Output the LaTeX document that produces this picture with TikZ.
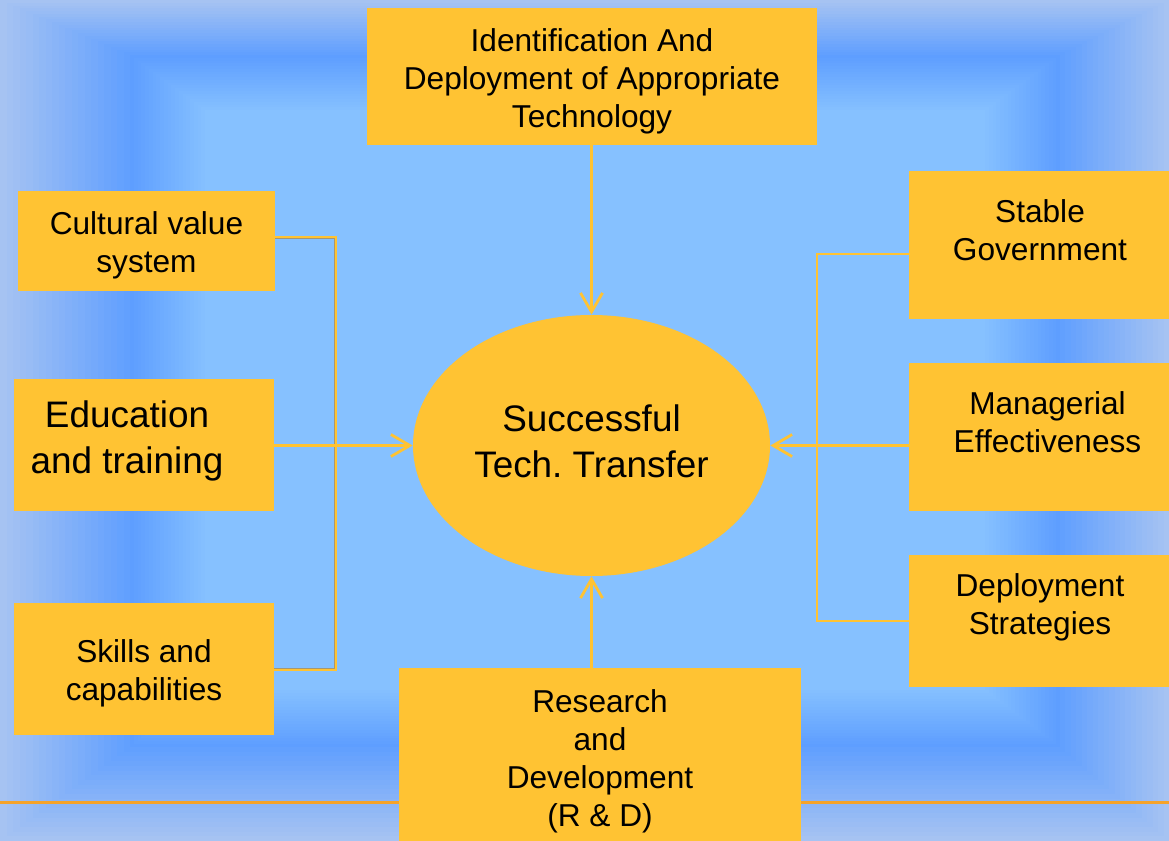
\documentclass[tikz,border=0pt]{standalone}
\usepackage{fontspec}
\setmainfont{Liberation Sans}
\usetikzlibrary{arrows.meta,calc,shapes.geometric}
\definecolor{boxorange}{RGB}{255,195,51}
\definecolor{rulecol}{RGB}{245,163,42}
\definecolor{edgeblue}{RGB}{166,195,242}
\definecolor{deepblue}{RGB}{94,158,255}
\definecolor{paleblue}{RGB}{134,193,255}
\definecolor{shadowgray}{RGB}{165,152,115}

\pgfdeclarelayer{background}
\pgfsetlayers{background,main}
\tikzstyle{box}=[rectangle,fill=boxorange,inner sep=0pt]
\tikzstyle{hub}=[ellipse,fill=boxorange,inner sep=0pt,minimum width=71.4mm,minimum height=52.2mm]
\tikzstyle{note}=[align=center,inner sep=0pt,font=\fontsize{18pt}{21.6pt}\selectfont]
\tikzstyle{bignote}=[note,font=\fontsize{21pt}{26pt}\selectfont]
\tikzstyle{link}=[draw=boxorange,line width=0.55mm,-{Straight Barb[length=3.8mm,width=4.4mm]}]
\tikzstyle{feed}=[draw=boxorange,line width=0.5mm]
\tikzstyle{rim}=[draw=boxorange,line width=0.34mm]
\tikzstyle{rim shadow}=[draw=shadowgray,line width=0.34mm]

\begin{document}
\begin{tikzpicture}[x=0.2mm, y=-0.2mm]
    \useasboundingbox (0,0) rectangle (1169,841);
    \foreach \pos/\name/\w/\h in {{(592,76.5)/tech/90/27.4}, {(146.5,241)/cult/51.4/20},
                                  {(144,445)/edu/52/26.4}, {(144,669)/skill/52/26.4},
                                  {(1039,245)/stable/52/29.6}, {(1039,437)/manag/52/29.6},
                                  {(1039,621)/deploy/52/26.4}, {(600,754.5)/rnd/80.4/34.6}}
        \node[box, minimum width=\w mm, minimum height=\h mm] (\name) at \pos {};
    \node[hub] (ell) at (591.5,445.5) {};

    \foreach \pos/\name/\txt in {{(592,81)/tech-t/Identification And\\Deployment of Appropriate\\Technology},
                                 {(146.5,245.5)/cult-t/Cultural value\\system},
                                 {(144,673)/skill-t/Skills and\\capabilities},
                                 {(1040,230)/stable-t/Stable\\Government},
                                 {(1047.5,422)/manag-t/Managerial\\Effectiveness},
                                 {(1040,607)/deploy-t/Deployment\\Strategies},
                                 {(600,761.5)/rnd-t/Research\\and\\Development\\(R \& D)}}
        \node[note] (\name) at \pos {\txt};
    \node[bignote] (edu-t) at (127,441) {Education\\and training};
    \node[bignote] (ell-t) at (591.5,441) {Successful\\Tech.\ Transfer};

    % left feeders
    \coordinate (lbend) at (336.3,236.8);
    \coordinate (lfoot) at (336.3,670.2);
    \path[rim shadow] ($(cult.east |- lbend)+(0,1.8)$) -- ($(lbend)+(-1.7,1.8)$)
        -- ($(lfoot)+(-1.7,-1.7)$) -- ($(skill.east |- lfoot)+(0,-1.7)$);
    \path[rim] (cult.east |- lbend) -- (lbend) -- (lfoot) -- (skill.east |- lfoot);
    \path[link] (edu.east |- ell.west) -- (ell.west);

    % right feeders
    \coordinate (rbend) at (816.8,254);
    \coordinate (rfoot) at (816.8,621);
    \path[feed] (stable.west |- rbend) -- (rbend) -- (rfoot) -- (deploy.west |- rfoot);
    \path[link] (manag.west |- ell.east) -- (ell.east);

    \path[link] (ell.north |- tech.south) -- (ell.north);
    \path[link] (ell.south |- rnd.north) -- (ell.south);

    \begin{pgfonlayer}{background}
        \foreach \i in {0,...,20} {
            \pgfmathtruncatemacro\p{5*\i}
            \fill[deepblue!\p!edgeblue] (6.5*\i,2.75*\i) rectangle (1169-5.45*\i,841-4.7*\i);
        }
        \foreach \i in {1,...,20} {
            \pgfmathtruncatemacro\p{5*\i}
            \fill[paleblue!\p!deepblue] (130+3.75*\i,55+2.75*\i) rectangle (1060-3.75*\i,747-2.85*\i);
        }
        \draw[rulecol, line width=0.54mm] (0,802.7) -- (1169,802.7);
    \end{pgfonlayer}
\end{tikzpicture}
\end{document}
